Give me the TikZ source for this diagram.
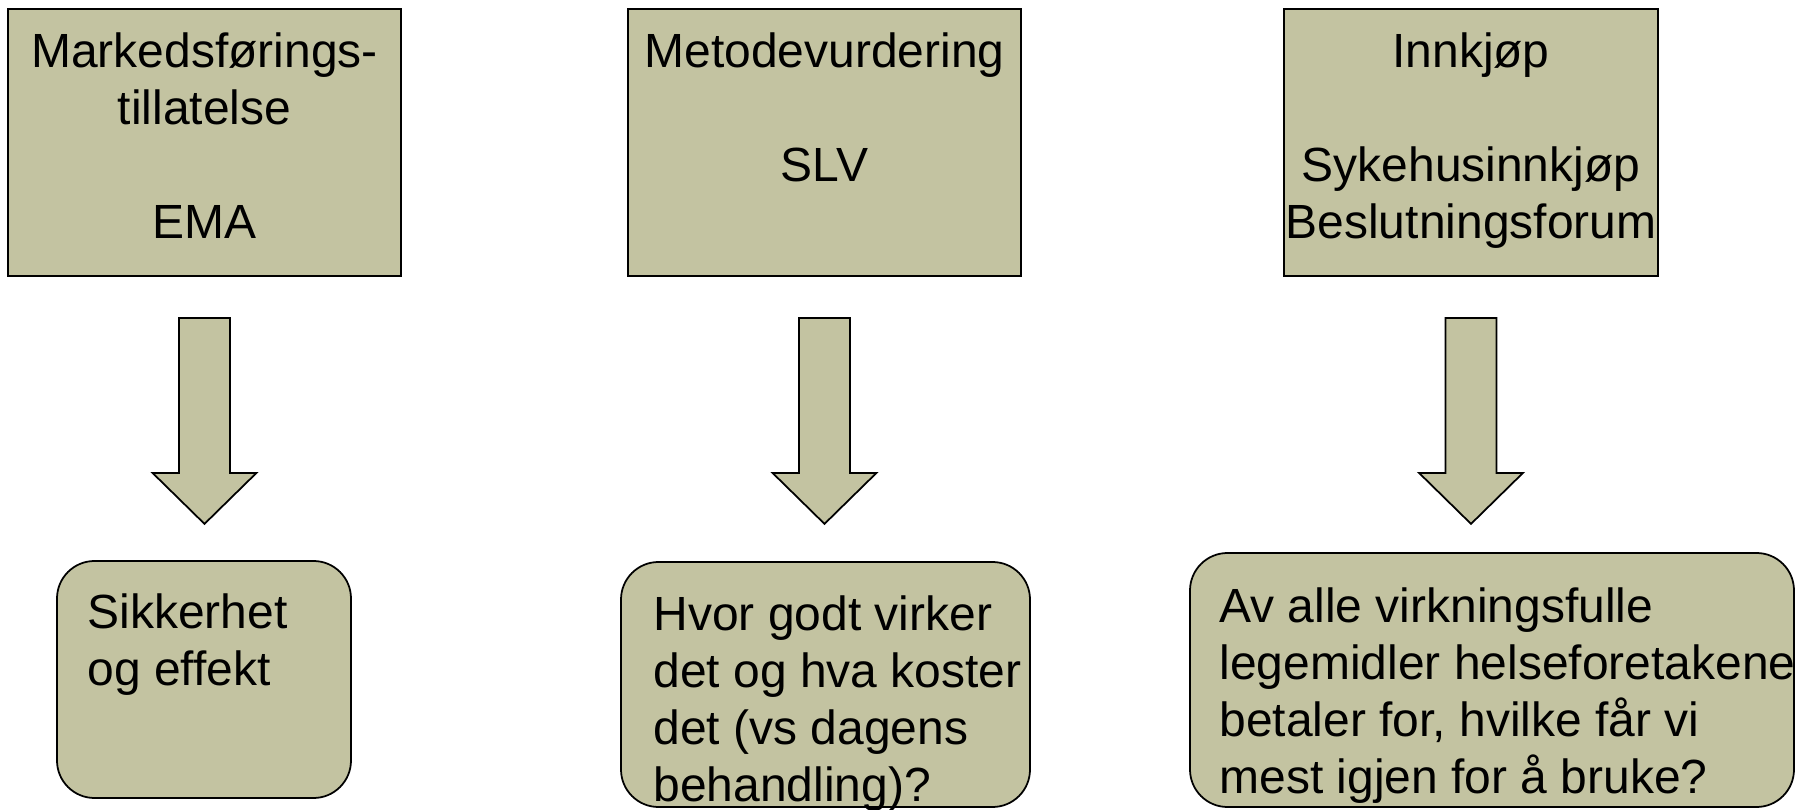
\documentclass[tikz,border=0pt]{standalone}
\usepackage{fontspec}
\setmainfont{Liberation Sans}
\usetikzlibrary{positioning, calc}
\definecolor{oliven}{RGB}{195,195,161}

\begin{document}
\begin{tikzpicture}[
  boks/.style={rectangle, draw, fill=oliven, line width=1pt, inner sep=0pt},
  rundboks/.style={boks, rounded corners=0.75cm},
  tekst/.style={inner sep=0pt, font={\fontsize{27.3pt}{32.4pt}\selectfont}},
  blokkpil/.style={draw, fill=oliven, line width=1pt, line join=miter}]

  \useasboundingbox (0,0) rectangle (35.96,-16.2);

  % top row
  \node[boks, minimum width=7.86cm, minimum height=5.34cm] (mft) at (4.09,-2.85) {};
  \node[boks, minimum width=7.86cm, minimum height=5.34cm] (metode) at (16.49,-2.85) {};
  \node[boks, minimum width=7.48cm, minimum height=5.34cm] (innkjop) at (29.42,-2.85) {};

  \node[tekst, align=center, below=0.38cm of mft.north] (mfttekst)
    {\strut Markedsførings-\\tillatelse\\\strut\\EMA};
  \node[tekst, align=center, below=0.38cm of metode.north] (metodetekst)
    {\strut Metodevurdering\\\strut\\SLV};
  \node[tekst, align=center, below=0.38cm of innkjop.north] (innkjoptekst)
    {\strut Innkjøp\\\strut\\Sykehusinnkjøp\\Beslutningsforum};

  % bottom row
  \node[rundboks, minimum width=5.88cm, minimum height=4.74cm] (sikker) at (4.08,-13.59) {};
  \node[rundboks, minimum width=8.18cm, minimum height=4.9cm] (virker) at (16.51,-13.69) {};
  \node[rundboks, minimum width=12.08cm, minimum height=5.08cm] (nytte) at (29.84,-13.6) {};

  \node[tekst, align=left, below right=0.56cm and 0.62cm of sikker.north west] (sikkertekst)
    {\strut Sikkerhet\\og effekt};
  \node[tekst, align=left, below right=0.58cm and 0.66cm of virker.north west] (virkertekst)
    {\strut Hvor godt virker\\det og hva koster\\det (vs dagens\\behandling)?};
  \node[tekst, align=left, below right=0.6cm and 0.6cm of nytte.north west] (nyttetekst)
    {\strut Av alle virkningsfulle\\legemidler helseforetakene\\betaler for, hvilke får vi\\mest igjen for å bruke?};

  % block arrows
  \foreach \b in {mft, metode, innkjop}
    \draw[blokkpil] ($(\b.south)+(-0.51,-0.82)$) -- ++(1.02,0) -- ++(0,-3.1) -- ++(0.53,0)
      -- ++(-1.04,-1.02) -- ++(-1.04,1.02) -- ++(0.53,0) -- cycle;
\end{tikzpicture}
\end{document}
